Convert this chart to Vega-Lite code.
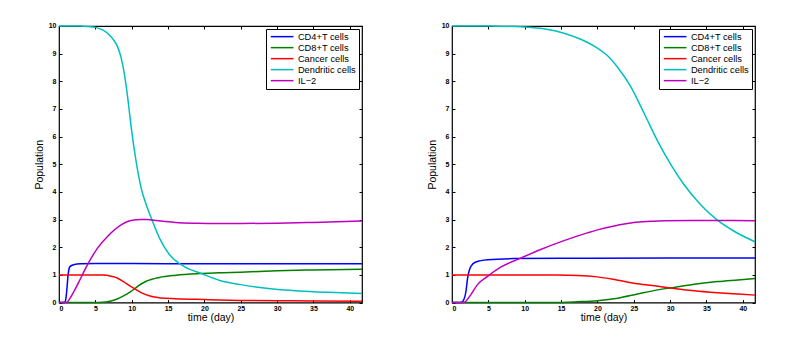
{
  "$schema": "https://vega.github.io/schema/vega-lite/v6.json",
  "padding": {"left": 33, "top": 21, "right": 0, "bottom": 0},
  "background": "white",
  "datasets": {
    "d": [
      {"p":"A","s":"CD4+T cells","t":0,"v":0},{"p":"A","s":"CD4+T cells","t":0.7,"v":0},{"p":"A","s":"CD4+T cells","t":0.9,"v":0.08},{"p":"A","s":"CD4+T cells","t":1.06,"v":0.41},{"p":"A","s":"CD4+T cells","t":1.25,"v":1.0},{"p":"A","s":"CD4+T cells","t":1.5,"v":1.3},{"p":"A","s":"CD4+T cells","t":2.0,"v":1.37},{"p":"A","s":"CD4+T cells","t":3,"v":1.4},{"p":"A","s":"CD4+T cells","t":5,"v":1.41},{"p":"A","s":"CD4+T cells","t":10,"v":1.41},{"p":"A","s":"CD4+T cells","t":20,"v":1.4},{"p":"A","s":"CD4+T cells","t":30,"v":1.4},{"p":"A","s":"CD4+T cells","t":41.67,"v":1.4},
      {"p":"A","s":"CD8+T cells","t":0,"v":0},{"p":"A","s":"CD8+T cells","t":5,"v":0},{"p":"A","s":"CD8+T cells","t":6,"v":0.01},{"p":"A","s":"CD8+T cells","t":7,"v":0.05},{"p":"A","s":"CD8+T cells","t":8,"v":0.13},{"p":"A","s":"CD8+T cells","t":9,"v":0.26},{"p":"A","s":"CD8+T cells","t":9.7,"v":0.37},{"p":"A","s":"CD8+T cells","t":10.4,"v":0.5},{"p":"A","s":"CD8+T cells","t":11,"v":0.62},{"p":"A","s":"CD8+T cells","t":12,"v":0.77},{"p":"A","s":"CD8+T cells","t":13.8,"v":0.91},{"p":"A","s":"CD8+T cells","t":16.1,"v":0.99},{"p":"A","s":"CD8+T cells","t":19.4,"v":1.05},{"p":"A","s":"CD8+T cells","t":22,"v":1.08},{"p":"A","s":"CD8+T cells","t":25,"v":1.1},{"p":"A","s":"CD8+T cells","t":30,"v":1.15},{"p":"A","s":"CD8+T cells","t":35,"v":1.18},{"p":"A","s":"CD8+T cells","t":41.67,"v":1.21},
      {"p":"A","s":"Cancer cells","t":0,"v":1},{"p":"A","s":"Cancer cells","t":5,"v":1},{"p":"A","s":"Cancer cells","t":6,"v":0.995},{"p":"A","s":"Cancer cells","t":6.5,"v":0.985},{"p":"A","s":"Cancer cells","t":7,"v":0.965},{"p":"A","s":"Cancer cells","t":7.5,"v":0.935},{"p":"A","s":"Cancer cells","t":8,"v":0.89},{"p":"A","s":"Cancer cells","t":8.8,"v":0.77},{"p":"A","s":"Cancer cells","t":9.9,"v":0.58},{"p":"A","s":"Cancer cells","t":10.6,"v":0.47},{"p":"A","s":"Cancer cells","t":11.3,"v":0.36},{"p":"A","s":"Cancer cells","t":12.4,"v":0.25},{"p":"A","s":"Cancer cells","t":13.1,"v":0.2},{"p":"A","s":"Cancer cells","t":14,"v":0.17},{"p":"A","s":"Cancer cells","t":16,"v":0.14},{"p":"A","s":"Cancer cells","t":20,"v":0.11},{"p":"A","s":"Cancer cells","t":25,"v":0.08},{"p":"A","s":"Cancer cells","t":30,"v":0.07},{"p":"A","s":"Cancer cells","t":35,"v":0.06},{"p":"A","s":"Cancer cells","t":41.67,"v":0.05},
      {"p":"A","s":"Dendritic cells","t":0,"v":10},{"p":"A","s":"Dendritic cells","t":3,"v":10},{"p":"A","s":"Dendritic cells","t":4,"v":9.98},{"p":"A","s":"Dendritic cells","t":5,"v":9.95},{"p":"A","s":"Dendritic cells","t":6,"v":9.86},{"p":"A","s":"Dendritic cells","t":7,"v":9.66},{"p":"A","s":"Dendritic cells","t":7.5,"v":9.5},{"p":"A","s":"Dendritic cells","t":8,"v":9.28},{"p":"A","s":"Dendritic cells","t":8.5,"v":8.9},{"p":"A","s":"Dendritic cells","t":9,"v":8.25},{"p":"A","s":"Dendritic cells","t":9.5,"v":7.3},{"p":"A","s":"Dendritic cells","t":9.9,"v":6.4},{"p":"A","s":"Dendritic cells","t":10.6,"v":5.11},{"p":"A","s":"Dendritic cells","t":11.3,"v":4.14},{"p":"A","s":"Dendritic cells","t":12,"v":3.54},{"p":"A","s":"Dendritic cells","t":12.77,"v":3.0},{"p":"A","s":"Dendritic cells","t":13.8,"v":2.34},{"p":"A","s":"Dendritic cells","t":15.2,"v":1.73},{"p":"A","s":"Dendritic cells","t":16.8,"v":1.37},{"p":"A","s":"Dendritic cells","t":18,"v":1.2},{"p":"A","s":"Dendritic cells","t":19.4,"v":1.07},{"p":"A","s":"Dendritic cells","t":22,"v":0.81},{"p":"A","s":"Dendritic cells","t":25,"v":0.65},{"p":"A","s":"Dendritic cells","t":28.5,"v":0.52},{"p":"A","s":"Dendritic cells","t":33,"v":0.42},{"p":"A","s":"Dendritic cells","t":37,"v":0.37},{"p":"A","s":"Dendritic cells","t":41.67,"v":0.33},
      {"p":"A","s":"IL−2","t":0,"v":0},{"p":"A","s":"IL−2","t":1.0,"v":0},{"p":"A","s":"IL−2","t":1.15,"v":0.02},{"p":"A","s":"IL−2","t":1.5,"v":0.15},{"p":"A","s":"IL−2","t":2.07,"v":0.41},{"p":"A","s":"IL−2","t":3.0,"v":0.89},{"p":"A","s":"IL−2","t":3.92,"v":1.37},{"p":"A","s":"IL−2","t":5.3,"v":1.97},{"p":"A","s":"IL−2","t":6.7,"v":2.4},{"p":"A","s":"IL−2","t":8.6,"v":2.82},{"p":"A","s":"IL−2","t":9.9,"v":2.97},{"p":"A","s":"IL−2","t":11.3,"v":3.0},{"p":"A","s":"IL−2","t":12,"v":3.0},{"p":"A","s":"IL−2","t":14,"v":2.95},{"p":"A","s":"IL−2","t":16,"v":2.9},{"p":"A","s":"IL−2","t":19,"v":2.87},{"p":"A","s":"IL−2","t":22,"v":2.86},{"p":"A","s":"IL−2","t":25,"v":2.86},{"p":"A","s":"IL−2","t":30,"v":2.87},{"p":"A","s":"IL−2","t":35,"v":2.9},{"p":"A","s":"IL−2","t":41.67,"v":2.95},
      {"p":"B","s":"CD4+T cells","t":0,"v":0},{"p":"B","s":"CD4+T cells","t":1.2,"v":0},{"p":"B","s":"CD4+T cells","t":1.5,"v":0.05},{"p":"B","s":"CD4+T cells","t":1.92,"v":0.41},{"p":"B","s":"CD4+T cells","t":2.15,"v":0.89},{"p":"B","s":"CD4+T cells","t":2.6,"v":1.31},{"p":"B","s":"CD4+T cells","t":3.28,"v":1.47},{"p":"B","s":"CD4+T cells","t":4.88,"v":1.55},{"p":"B","s":"CD4+T cells","t":8.5,"v":1.59},{"p":"B","s":"CD4+T cells","t":15,"v":1.6},{"p":"B","s":"CD4+T cells","t":30,"v":1.61},{"p":"B","s":"CD4+T cells","t":41.67,"v":1.61},
      {"p":"B","s":"CD8+T cells","t":0,"v":0},{"p":"B","s":"CD8+T cells","t":14,"v":0},{"p":"B","s":"CD8+T cells","t":17.3,"v":0.03},{"p":"B","s":"CD8+T cells","t":20,"v":0.07},{"p":"B","s":"CD8+T cells","t":22.8,"v":0.16},{"p":"B","s":"CD8+T cells","t":25.5,"v":0.31},{"p":"B","s":"CD8+T cells","t":28.3,"v":0.46},{"p":"B","s":"CD8+T cells","t":30.3,"v":0.54},{"p":"B","s":"CD8+T cells","t":33.3,"v":0.66},{"p":"B","s":"CD8+T cells","t":36.5,"v":0.76},{"p":"B","s":"CD8+T cells","t":39.3,"v":0.82},{"p":"B","s":"CD8+T cells","t":41.67,"v":0.87},
      {"p":"B","s":"Cancer cells","t":0,"v":1},{"p":"B","s":"Cancer cells","t":10,"v":1},{"p":"B","s":"Cancer cells","t":14,"v":0.995},{"p":"B","s":"Cancer cells","t":17.3,"v":0.98},{"p":"B","s":"Cancer cells","t":20,"v":0.93},{"p":"B","s":"Cancer cells","t":22.8,"v":0.81},{"p":"B","s":"Cancer cells","t":25.5,"v":0.68},{"p":"B","s":"Cancer cells","t":28.3,"v":0.59},{"p":"B","s":"Cancer cells","t":30.3,"v":0.52},{"p":"B","s":"Cancer cells","t":33.3,"v":0.43},{"p":"B","s":"Cancer cells","t":36.5,"v":0.36},{"p":"B","s":"Cancer cells","t":39.3,"v":0.31},{"p":"B","s":"Cancer cells","t":41.67,"v":0.27},
      {"p":"B","s":"Dendritic cells","t":0,"v":10},{"p":"B","s":"Dendritic cells","t":5,"v":10},{"p":"B","s":"Dendritic cells","t":10,"v":9.96},{"p":"B","s":"Dendritic cells","t":13,"v":9.88},{"p":"B","s":"Dendritic cells","t":15.4,"v":9.74},{"p":"B","s":"Dendritic cells","t":17.7,"v":9.52},{"p":"B","s":"Dendritic cells","t":20,"v":9.2},{"p":"B","s":"Dendritic cells","t":21.5,"v":8.9},{"p":"B","s":"Dendritic cells","t":22.8,"v":8.5},{"p":"B","s":"Dendritic cells","t":24.6,"v":7.8},{"p":"B","s":"Dendritic cells","t":26.5,"v":6.8},{"p":"B","s":"Dendritic cells","t":28.3,"v":5.83},{"p":"B","s":"Dendritic cells","t":30.1,"v":4.99},{"p":"B","s":"Dendritic cells","t":31.9,"v":4.27},{"p":"B","s":"Dendritic cells","t":34.2,"v":3.54},{"p":"B","s":"Dendritic cells","t":36.5,"v":2.98},{"p":"B","s":"Dendritic cells","t":38.8,"v":2.58},{"p":"B","s":"Dendritic cells","t":41.67,"v":2.2},
      {"p":"B","s":"IL−2","t":0,"v":0},{"p":"B","s":"IL−2","t":1.6,"v":0},{"p":"B","s":"IL−2","t":1.9,"v":0.05},{"p":"B","s":"IL−2","t":2.6,"v":0.29},{"p":"B","s":"IL−2","t":3.5,"v":0.65},{"p":"B","s":"IL−2","t":4.9,"v":0.95},{"p":"B","s":"IL−2","t":6.7,"v":1.28},{"p":"B","s":"IL−2","t":9.3,"v":1.59},{"p":"B","s":"IL−2","t":12.2,"v":1.92},{"p":"B","s":"IL−2","t":15.4,"v":2.24},{"p":"B","s":"IL−2","t":18.6,"v":2.52},{"p":"B","s":"IL−2","t":20,"v":2.63},{"p":"B","s":"IL−2","t":22.8,"v":2.8},{"p":"B","s":"IL−2","t":25,"v":2.9},{"p":"B","s":"IL−2","t":27.4,"v":2.94},{"p":"B","s":"IL−2","t":29.1,"v":2.96},{"p":"B","s":"IL−2","t":33,"v":2.97},{"p":"B","s":"IL−2","t":41.67,"v":2.96}
    ]
  },
  "data": {"name": "d"},
  "spacing": 60,
  "resolve": {"scale": {"color": "independent"}, "legend": {"color": "independent"}},
  "hconcat": [
    {
      "width": 303, "height": 276.6,
      "transform": [{"filter": "datum.p == 'A'"}],
      "resolve": {"axis": {"x": "independent", "y": "independent"}},
      "layer": [
        {
          "mark": {"type": "line", "strokeWidth": 1.5, "interpolate": "monotone"},
          "encoding": {
            "x": {"field": "t", "type": "quantitative", "scale": {"domain": [0, 41.67], "nice": false}, "axis": {"values": [0,5,10,15,20,25,30,35,40], "title": "time (day)", "labelPadding": 4.5, "titlePadding": 1}},
            "y": {"field": "v", "type": "quantitative", "scale": {"domain": [0, 10], "nice": false}, "axis": {"values": [0,1,2,3,4,5,6,7,8,9,10], "title": "Population", "labelPadding": 6, "titlePadding": 4}},
            "color": {"field": "s", "type": "nominal", "scale": {"domain": ["CD4+T cells","CD8+T cells","Cancer cells","Dendritic cells","IL−2"], "range": ["#0000ff","#008000","#ff0000","#00bfbf","#bf00bf"]}, "legend": {"orient": "top-right"}}
          }
        },
        {
          "mark": {"type": "line", "strokeOpacity": 0},
          "encoding": {
            "x": {"field": "t", "type": "quantitative", "scale": {"domain": [0, 41.67], "nice": false}, "axis": {"orient": "top", "values": [0,5,10,15,20,25,30,35,40], "labels": false, "title": null}},
            "y": {"field": "v", "type": "quantitative", "scale": {"domain": [0, 10], "nice": false}, "axis": {"orient": "right", "values": [0,1,2,3,4,5,6,7,8,9,10], "labels": false, "title": null}}
          }
        }
      ]
    },
    {
      "width": 303, "height": 276.6,
      "transform": [{"filter": "datum.p == 'B'"}],
      "resolve": {"axis": {"x": "independent", "y": "independent"}},
      "layer": [
        {
          "mark": {"type": "line", "strokeWidth": 1.5, "interpolate": "monotone"},
          "encoding": {
            "x": {"field": "t", "type": "quantitative", "scale": {"domain": [0, 41.67], "nice": false}, "axis": {"values": [0,5,10,15,20,25,30,35,40], "title": "time (day)", "labelPadding": 4.5, "titlePadding": 1}},
            "y": {"field": "v", "type": "quantitative", "scale": {"domain": [0, 10], "nice": false}, "axis": {"values": [0,1,2,3,4,5,6,7,8,9,10], "title": "Population", "labelPadding": 6, "titlePadding": 4}},
            "color": {"field": "s", "type": "nominal", "scale": {"domain": ["CD4+T cells","CD8+T cells","Cancer cells","Dendritic cells","IL−2"], "range": ["#0000ff","#008000","#ff0000","#00bfbf","#bf00bf"]}, "legend": {"orient": "top-right"}}
          }
        },
        {
          "mark": {"type": "line", "strokeOpacity": 0},
          "encoding": {
            "x": {"field": "t", "type": "quantitative", "scale": {"domain": [0, 41.67], "nice": false}, "axis": {"orient": "top", "values": [0,5,10,15,20,25,30,35,40], "labels": false, "title": null}},
            "y": {"field": "v", "type": "quantitative", "scale": {"domain": [0, 10], "nice": false}, "axis": {"orient": "right", "values": [0,1,2,3,4,5,6,7,8,9,10], "labels": false, "title": null}}
          }
        }
      ]
    }
  ],
  "config": {
    "view": {"stroke": "black", "strokeWidth": 1.2},
    "axis": {"domain": false, "grid": false, "ticks": true, "tickSize": -3, "tickColor": "black", "tickWidth": 1, "labelFont": "Liberation Sans", "labelFontSize": 7, "labelFontWeight": "bold", "labelColor": "black", "titleFont": "Liberation Sans", "titleFontSize": 10.5, "titleFontWeight": "normal", "titleColor": "black"},
    "legend": {"title": null, "offset": 3, "strokeColor": "black", "fillColor": "white", "padding": 3, "cornerRadius": 0, "symbolType": "M-1,0H7", "symbolSize": 32, "symbolStrokeWidth": 1.5, "labelFont": "Liberation Sans", "labelFontSize": 9.3, "labelColor": "black", "labelOffset": 19.6, "rowPadding": 1}
  }
}
